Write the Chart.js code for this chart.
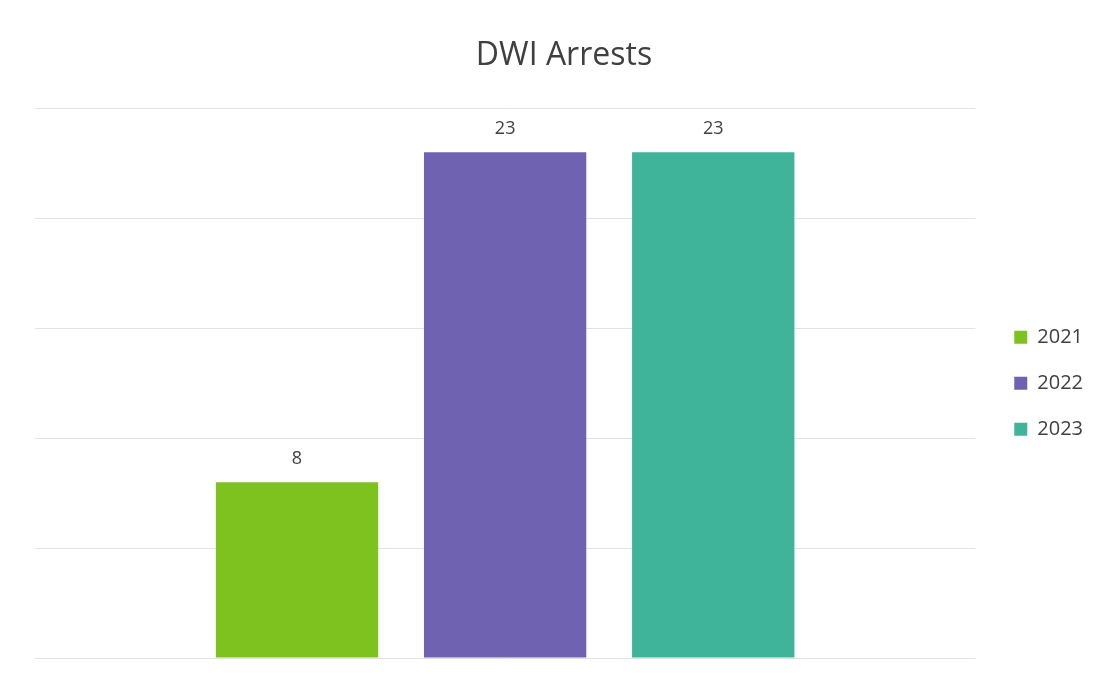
<!DOCTYPE html>
<html>
<head>
<meta charset="utf-8">
<title>DWI Arrests</title>
<script src="https://cdn.jsdelivr.net/npm/chart.js@4.4.0/dist/chart.umd.min.js"></script>
<style>
  html, body { margin: 0; padding: 0; background: #fff; }
  #wrap { width: 1105px; height: 685px; }
</style>
</head>
<body>
<div id="wrap"><canvas id="myChart" width="1105" height="685"></canvas></div>
<script>
// chart data
var years = ["2021", "2022", "2023"];
var arrests = [8, 23, 23];
var barColors = ["#7dc21f", "#6f62b0", "#40b39b"];
var yTicks = [0, 5, 10, 15, 20, 25];

// draw the value above each bar
var valueLabels = {
    id: 'valueLabels',
    afterDatasetsDraw: function(chart) {
        var ctx = chart.ctx;
        ctx.save();
        ctx.font = '18px "Open Sans", sans-serif';
        ctx.fillStyle = '#404040';
        ctx.textAlign = 'center';
        ctx.textBaseline = 'middle';
        chart.data.datasets.forEach(function(ds, i) {
            var meta = chart.getDatasetMeta(i);
            meta.data.forEach(function(bar, j) {
                ctx.fillText(ds.data[j], bar.x, bar.y - 23);
            });
        });
        ctx.restore();
    }
};

var ctx = document.getElementById('myChart').getContext('2d');

var myBarChart = new Chart(ctx, {
    type: 'bar',
    data: {
        labels: [""],
        datasets: years.map(function(y, i) {
            return {
                label: y,
                data: [arrests[i]],
                backgroundColor: barColors[i],
                borderWidth: 0
            };
        })
    },
    options: {
        responsive: false,
        animation: false,
        layout: { padding: { left: 35, right: 12, top: 0, bottom: 19 } },
        datasets: {
            bar: { categoryPercentage: 0.664, barPercentage: 0.78 }
        },
        plugins: {
            title: {
                display: true,
                text: 'DWI Arrests',
                color: '#404040',
                font: { family: 'Open Sans', size: 32, weight: 'normal' },
                padding: { top: 37, bottom: 33 }
            },
            legend: {
                position: 'right',
                fullSize: false,
                labels: {
                    boxWidth: 13,
                    boxHeight: 13,
                    padding: 26,
                    color: '#404040',
                    font: { family: 'Open Sans', size: 20 }
                }
            },
            tooltip: { enabled: false }
        },
        scales: {
            x: {
                grid: { display: false },
                border: { display: false },
                ticks: { display: false }
            },
            y: {
                min: yTicks[0],
                max: yTicks[yTicks.length - 1],
                afterBuildTicks: function(axis) {
                    axis.ticks = yTicks.map(function(v) { return { value: v }; });
                },
                grid: { color: '#e3e3e3', lineWidth: 1, drawTicks: false },
                border: { display: false },
                ticks: { display: false }
            },
            // empty gap between plot and legend
            gap: {
                position: 'right',
                grid: { display: false },
                border: { display: false },
                ticks: { display: false },
                afterFit: function(axis) { axis.width = 13; }
            }
        }
    },
    plugins: [valueLabels]
});
</script>
</body>
</html>
